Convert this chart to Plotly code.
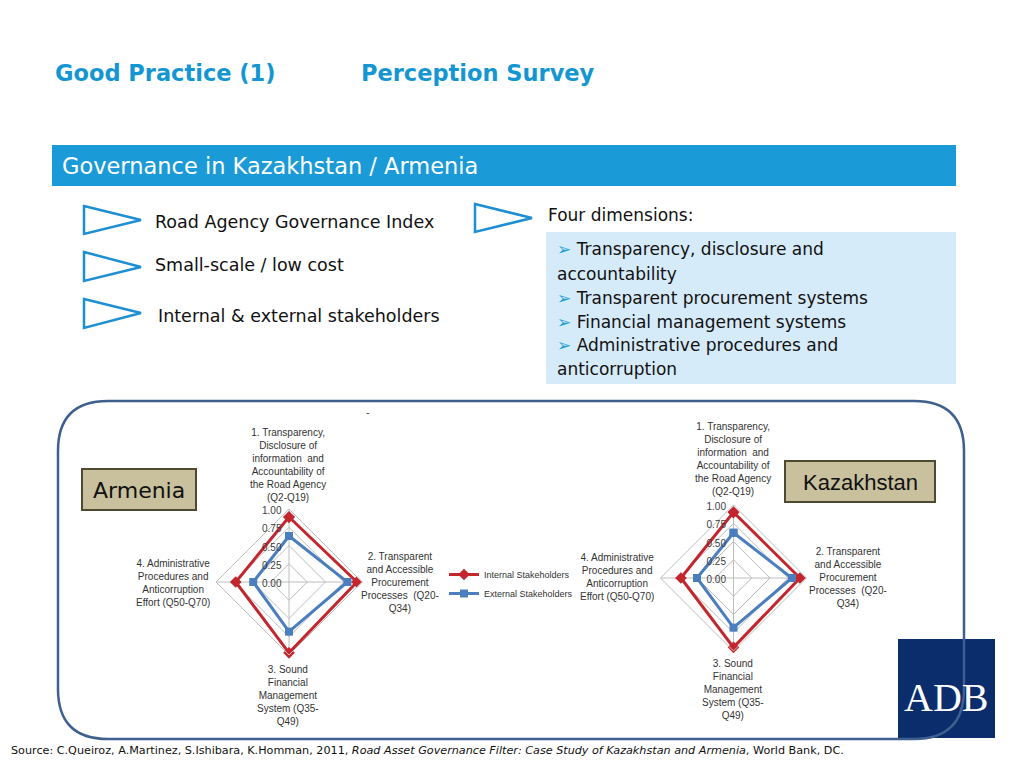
import plotly.graph_objects as go

# page has an 8px body margin; figure sized to fit the 1024x768 window
OFF = 8
W, H = 1024 - 2 * OFF, 768 - 2 * OFF

def X(p):
    return (p - OFF) / W

def Y(p):
    return 1 - (p - OFF) / H

# ---------------- data ----------------
dimensions = ["Transparency", "Procurement", "Financial Management", "Administrative Procedures"]
armenia_internal = [0.89, 0.93, 0.97, 0.73]
armenia_external = [0.63, 0.80, 0.68, 0.49]
kazakhstan_internal = [0.90, 0.91, 0.95, 0.72]
kazakhstan_external = [0.62, 0.80, 0.68, 0.50]
series_names = ["Internal Stakeholders", "External Stakeholders"]
radial_ticks = [0, 0.25, 0.5, 0.75, 1.0]

dim_labels = [
    "1. Transparency,<br>Disclosure of<br>information  and<br>Accountability of<br>the Road Agency<br>(Q2-Q19)",
    "2. Transparent<br>and Accessible<br>Procurement<br>Processes  (Q20-<br>Q34)",
    "3. Sound<br>Financial<br>Management<br>System (Q35-<br>Q49)",
    "4. Administrative<br>Procedures and<br>Anticorruption<br>Effort (Q50-Q70)",
]

RED = "#C4262E"
BLUE = "#4A7EBF"
GRID = "#BDBDBD"

fig = go.Figure()

def close(v):
    return list(v) + [v[0]]

th = close(dimensions)
for sub, inter, exter, show in [("polar", armenia_internal, armenia_external, True),
                                ("polar2", kazakhstan_internal, kazakhstan_external, False)]:
    fig.add_trace(go.Scatterpolar(
        r=close(inter), theta=th, subplot=sub, name=series_names[0], mode="lines+markers",
        line=dict(color=RED, width=3), marker=dict(symbol="diamond", size=9, color=RED),
        showlegend=show))
    fig.add_trace(go.Scatterpolar(
        r=close(exter), theta=th, subplot=sub, name=series_names[1], mode="lines+markers",
        line=dict(color=BLUE, width=3), marker=dict(symbol="square", size=8, color=BLUE),
        showlegend=show))

def polar_layout(cx, cy, R):
    return dict(
        domain=dict(x=[X(cx - R), X(cx + R)], y=[Y(cy + R), Y(cy - R)]),
        bgcolor="rgba(0,0,0,0)",
        gridshape="linear",
        radialaxis=dict(range=[0, 1], tickvals=radial_ticks, tickformat=".2f",
                        angle=90, side="counterclockwise", showline=False, ticks="",
                        gridcolor=GRID, gridwidth=1,
                        tickfont=dict(family="Liberation Sans", size=10, color="#404040")),
        angularaxis=dict(categoryorder="array", categoryarray=dimensions,
                         rotation=90, direction="clockwise", showticklabels=False, ticks="",
                         showline=True, linecolor=GRID, linewidth=1,
                         gridcolor=GRID, gridwidth=1),
    )

shapes = []

def path(pts, closed=True):
    s = "M " + " L ".join(f"{X(a):.5f},{Y(b):.5f}" for a, b in pts)
    return s + (" Z" if closed else "")

# blue header bar
shapes.append(dict(type="rect", xref="paper", yref="paper", x0=X(52), x1=X(956), y0=Y(186), y1=Y(145),
                   fillcolor="#1A9AD6", line=dict(width=0)))
# triangles
for (x0, ytop, ybot, xa, ya) in [(84, 206, 234, 141, 220), (84, 252, 281, 141, 267),
                                 (84, 299, 328, 141, 313), (475, 204, 232, 532, 218)]:
    shapes.append(dict(type="path", xref="paper", yref="paper",
                       path=path([(x0, ytop), (xa, ya), (x0, ybot)]),
                       fillcolor="white", line=dict(color="#1E8FD2", width=2.5)))
# light blue box
shapes.append(dict(type="rect", xref="paper", yref="paper", x0=X(546), x1=X(956), y0=Y(384), y1=Y(232),
                   fillcolor="#D6EBF9", line=dict(width=0)))
# ADB logo
shapes.append(dict(type="rect", xref="paper", yref="paper", x0=X(898), x1=X(995), y0=Y(738), y1=Y(639),
                   fillcolor="#0B2D6B", line=dict(width=0)))
# rounded frame
L, T, Rr, B, r = 58, 401, 964, 739, 50
def q(a, b):
    return f"{X(a):.5f},{Y(b):.5f}"
frame = (f"M {q(L + r, T)} L {q(Rr - r, T)} Q {q(Rr, T)} {q(Rr, T + r)} "
         f"L {q(Rr, B - r)} Q {q(Rr, B)} {q(Rr - r, B)} L {q(L + r, B)} "
         f"Q {q(L, B)} {q(L, B - r)} L {q(L, T + r)} Q {q(L, T)} {q(L + r, T)} Z")
shapes.append(dict(type="path", xref="paper", yref="paper", path=frame,
                   line=dict(color="#3F5F8F", width=2.5), fillcolor="rgba(0,0,0,0)"))
# country label boxes
shapes.append(dict(type="rect", xref="paper", yref="paper", x0=X(82), x1=X(196), y0=Y(510), y1=Y(469),
                   fillcolor="#C9C19D", line=dict(color="#4E4A32", width=2)))
shapes.append(dict(type="rect", xref="paper", yref="paper", x0=X(785), x1=X(935), y0=Y(502), y1=Y(461),
                   fillcolor="#C9C19D", line=dict(color="#4E4A32", width=2)))

ann = []
def text(x, y, s, size, color="#111111", family="DejaVu Sans", xanchor="left", yanchor="middle", align="left"):
    ann.append(dict(x=X(x), y=Y(y), xref="paper", yref="paper", text=s, showarrow=False,
                    xanchor=xanchor, yanchor=yanchor, align=align,
                    font=dict(family=family, size=size, color=color)))

TITLE = "#1496D2"
text(53, 73, "<b>Good Practice (1)</b>", 22.5, TITLE)
text(359, 73, "<b>Perception Survey</b>", 22.5, TITLE)
text(60, 166, "Governance in Kazakhstan / Armenia", 22.5, "white")
text(153, 222, "Road Agency Governance Index", 17.5)
text(153, 265, "Small-scale / low cost", 17.5)
text(156, 316, "Internal & external stakeholders", 17.5)
text(546, 215, "Four dimensions:", 17)
bul = "<span style='color:#1E9FD0'>➢</span> "
box_lines = [(bul + "Transparency, disclosure and", 249), ("accountability", 274),
             (bul + "Transparent procurement systems", 298), (bul + "Financial management systems", 322),
             (bul + "Administrative procedures and", 345), ("anticorruption", 369)]
for s, yy in box_lines:
    text(555, yy, s, 17)
text(139, 490, "Armenia", 22, xanchor="center")
text(860, 482, "Kazakhstan", 22, family="Liberation Sans", xanchor="center")
text(946, 697, "ADB", 40, "white", family="Liberation Serif", xanchor="center")
text(368, 412, "-", 10, "#333333", xanchor="center")
text(9, 759, "Source: C.Queiroz, A.Martinez, S.Ishibara, K.Homman, 2011, <i>Road Asset Governance Filter: Case Study of Kazakhstan and Armenia</i>, World Bank, DC.",
     11.2, yanchor="bottom")

# radar dimension labels
LF = "Liberation Sans"
for positions in [[(288, 465), (400, 582), (288, 695), (173, 583)],
                  [(733, 459), (848, 577), (733, 689), (617, 577)]]:
    for lab, (px, py) in zip(dim_labels, positions):
        text(px, py, lab, 10, "#333333", family=LF, xanchor="center", align="center")

fig.update_layout(
    width=W, height=H, margin=dict(l=0, r=0, t=0, b=0),
    paper_bgcolor="white", plot_bgcolor="white",
    polar=polar_layout(289, 582, 73),
    polar2=polar_layout(733.5, 578, 73),
    shapes=shapes, annotations=ann,
    showlegend=True,
    legend=dict(x=X(444), y=Y(560), xanchor="left", yanchor="top", bgcolor="rgba(0,0,0,0)",
                font=dict(family=LF, size=9, color="#333333"), tracegroupgap=0),
)

fig.write_html("out.html")
